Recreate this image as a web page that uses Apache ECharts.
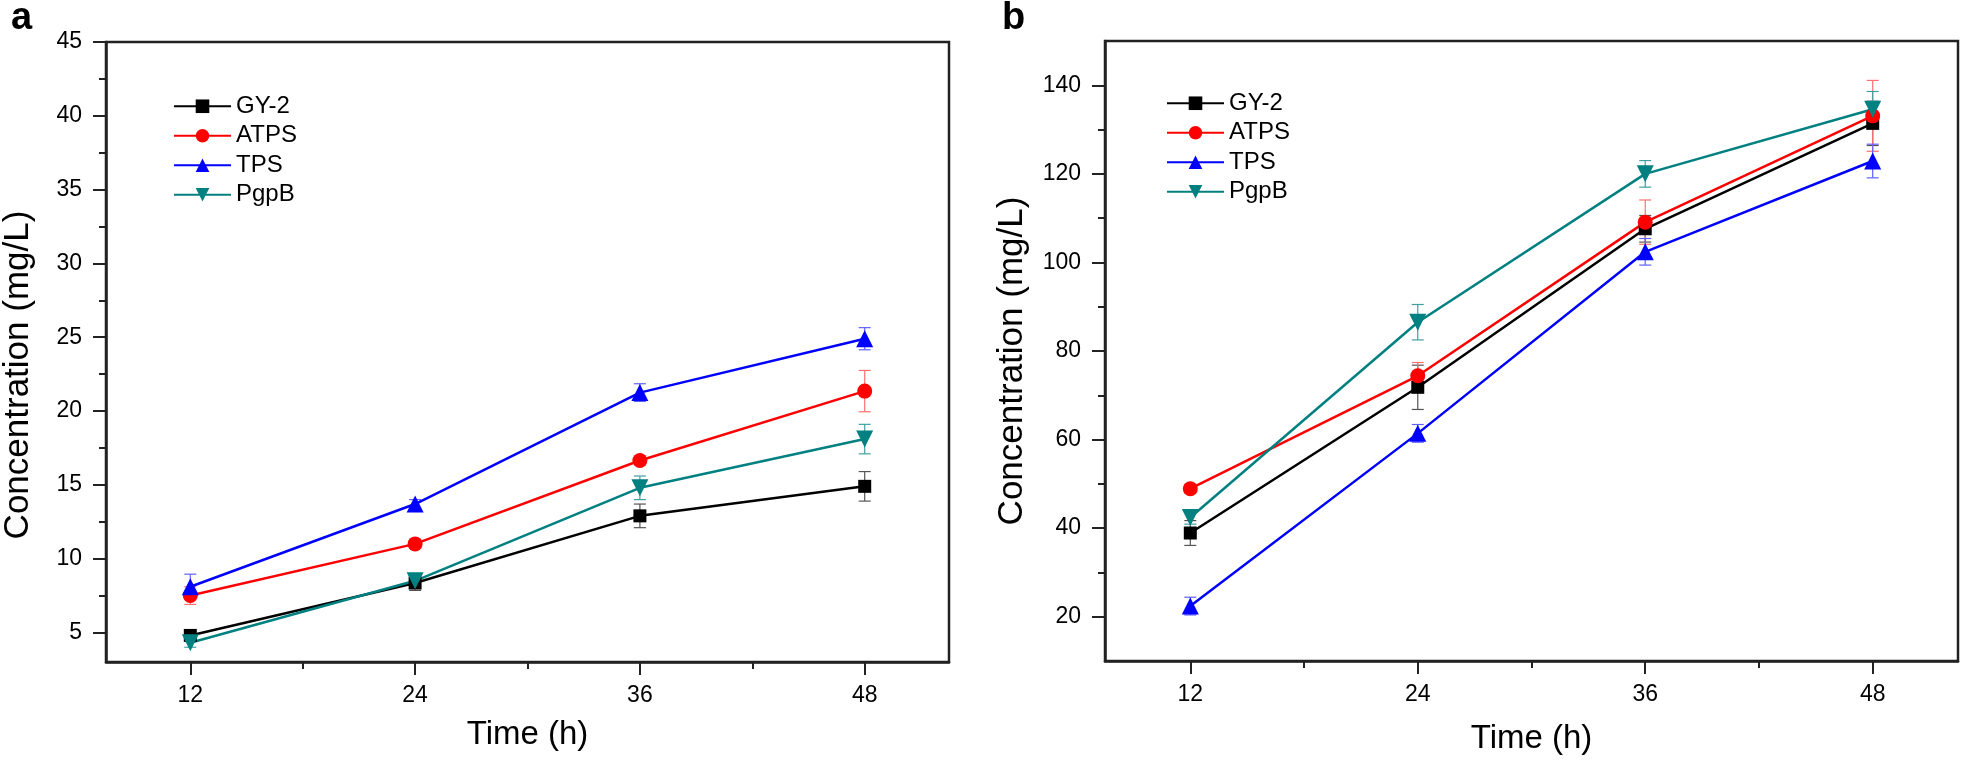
<!DOCTYPE html>
<html>
<head>
<meta charset="utf-8">
<script src="https://cdn.jsdelivr.net/npm/echarts@6/dist/echarts.min.js"></script>
<style>
html,body{margin:0;padding:0;background:#fff;}
#c{width:1961px;height:760px;}
</style>
</head>
<body>
<div id="c"></div>
<script>
// ---- data ----
const times = [12, 24, 36, 48];
const seriesNames = ['GY-2', 'ATPS', 'TPS', 'PgpB'];

// panel a
const gy2A = [4.8, 8.35, 12.9, 14.9];
const gy2AErr = [0.3, 0.5, 0.8, 1.0];
const atpsA = [7.5, 11.0, 16.65, 21.35];
const atpsAErr = [0.6, 0.3, 0.3, 1.4];
const tpsA = [8.1, 13.7, 21.25, 24.9];
const tpsAErr = [0.85, 0.3, 0.6, 0.75];
const pgpbA = [4.3, 8.5, 14.8, 18.1];
const pgpbAErr = [0.3, 0.4, 0.8, 1.0];

// panel b
const gy2B = [38.9, 71.8, 107.6, 131.4];
const gy2BErr = [2.8, 5, 3, 5];
const atpsB = [48.9, 74.4, 109.1, 133.1];
const atpsBErr = [1, 3, 5, 8];
const tpsB = [22.4, 61.4, 102.4, 122.9];
const tpsBErr = [2, 2, 3, 3.8];
const pgpbB = [42.4, 86.5, 120.0, 134.6];
const pgpbBErr = [1.5, 4, 3, 4];

// ticks
const xMajor = [12, 24, 36, 48];
const xMinor = [18, 30, 42];
const yMajorA = [5, 10, 15, 20, 25, 30, 35, 40, 45];
const yMinorA = [7.5, 12.5, 17.5, 22.5, 27.5, 32.5, 37.5, 42.5];
const yMajorB = [20, 40, 60, 80, 100, 120, 140];
const yMinorB = [30, 50, 70, 90, 110, 130];

// ---- styles ----
const FONT = 'Liberation Sans, Arial, sans-serif';
const colors = ['#000000', '#ff0000', '#0000ff', '#008080'];
const errColors = ['#555555', '#ff7070', '#6060ff', '#40a0a0'];
const symbols = ['rect', 'circle', 'triangle', 'triangle'];
const symbolSizes = [13, 15, 17, 17];
const rotations = [0, 0, 0, 180];

const chart = echarts.init(document.getElementById('c'), null, {renderer: 'canvas'});

function mkX(grid, ticks, len, main, nameGap) {
  return {
    type: 'value', gridIndex: grid, min: 7.5, max: 52.5, position: 'bottom',
    axisLine: {show: main, lineStyle: {color: '#222', width: 2.5}},
    axisTick: {show: true, customValues: ticks, length: len, inside: false, lineStyle: {color: '#222', width: 2}},
    axisLabel: main ? {show: true, customValues: ticks, fontSize: 23, fontFamily: FONT, color: '#000', margin: 22} : {show: false},
    splitLine: {show: false},
    name: main ? 'Time (h)' : '',
    nameLocation: 'middle', nameGap: nameGap,
    nameTextStyle: {fontSize: 33, fontFamily: FONT, color: '#000'}
  };
}
function mkY(grid, min, max, ticks, len, main, nameGap, pad) {
  return {
    type: 'value', gridIndex: grid, min: min, max: max, position: 'left',
    axisLine: {show: main, lineStyle: {color: '#222', width: 2.5}},
    axisTick: {show: true, customValues: ticks, length: len, inside: false, lineStyle: {color: '#222', width: 2}},
    axisLabel: main ? {show: true, customValues: ticks, fontSize: 23, fontFamily: FONT, color: '#000', margin: 24} : {show: false},
    splitLine: {show: false},
    name: main ? 'Concentration (mg/L)' : '',
    nameLocation: 'middle', nameGap: nameGap,
    nameTextStyle: {fontSize: 35, fontFamily: FONT, color: '#000', padding: pad}
  };
}

const panels = [
  {vals: [gy2A, atpsA, tpsA, pgpbA], errs: [gy2AErr, atpsAErr, tpsAErr, pgpbAErr], x: 0, y: 0},
  {vals: [gy2B, atpsB, tpsB, pgpbB], errs: [gy2BErr, atpsBErr, tpsBErr, pgpbBErr], x: 2, y: 2}
];

const series = [];
panels.forEach(function (p) {
  p.vals.forEach(function (v, i) {
    const col = errColors[i];
    series.push({
      name: seriesNames[i] + ' err', type: 'custom', xAxisIndex: p.x, yAxisIndex: p.y,
      data: times.map(function (t, k) { return [t, v[k] - p.errs[i][k], v[k] + p.errs[i][k]]; }),
      encode: {x: 0, y: [1, 2]},
      z: 3, silent: true,
      renderItem: function (params, api) {
        const x = api.value(0);
        const lo = api.coord([x, api.value(1)]);
        const hi = api.coord([x, api.value(2)]);
        const w = 6;
        const st = {stroke: col, lineWidth: 1.2};
        return {type: 'group', children: [
          {type: 'line', shape: {x1: lo[0], y1: lo[1], x2: hi[0], y2: hi[1]}, style: st},
          {type: 'line', shape: {x1: lo[0] - w, y1: lo[1], x2: lo[0] + w, y2: lo[1]}, style: st},
          {type: 'line', shape: {x1: hi[0] - w, y1: hi[1], x2: hi[0] + w, y2: hi[1]}, style: st}
        ]};
      }
    });
    series.push({
      name: seriesNames[i], type: 'line', xAxisIndex: p.x, yAxisIndex: p.y,
      data: times.map(function (t, k) { return [t, v[k]]; }),
      symbol: symbols[i], symbolSize: symbolSizes[i], symbolRotate: rotations[i],
      showAllSymbol: true,
      lineStyle: {color: colors[i], width: 2.5},
      itemStyle: {color: colors[i]},
      z: 4
    });
  });
});

const legendBase = {
  orient: 'vertical', data: seriesNames, itemWidth: 57, itemHeight: 17, itemGap: 5,
  textStyle: {fontSize: 24, fontFamily: FONT, color: '#000', lineHeight: 24.5},
  selectedMode: false
};

chart.setOption({
  animation: false,
  backgroundColor: '#fff',
  grid: [
    {left: 106, top: 42, width: 843, height: 620, show: true, borderColor: '#222', borderWidth: 2.5, backgroundColor: 'transparent'},
    {left: 1105, top: 41, width: 853, height: 626, show: true, borderColor: '#222', borderWidth: 2.5, backgroundColor: 'transparent'}
  ],
  xAxis: [
    mkX(0, xMajor, 13, true, 56),
    mkX(0, xMinor, 7, false, 0),
    mkX(1, xMajor, 13, true, 61),
    mkX(1, xMinor, 7, false, 0)
  ],
  yAxis: [
    mkY(0, 3, 45, yMajorA, 13, true, 70, [0, 46, 0, 0]),
    mkY(0, 3, 45, yMinorA, 7, false, 0, 0),
    mkY(1, 10, 150, yMajorB, 13, true, 75, [0, 20, 0, 0]),
    mkY(1, 10, 150, yMinorB, 7, false, 0, 0)
  ],
  legend: [
    Object.assign({}, legendBase, {left: 168, top: 89}),
    Object.assign({}, legendBase, {left: 1161, top: 86})
  ],
  graphic: [
    {type: 'text', left: 11, top: 0, style: {text: 'a', fontSize: 38, fontWeight: 'bold', fontFamily: FONT, fill: '#000'}},
    {type: 'text', left: 1002, top: 0, style: {text: 'b', fontSize: 38, fontWeight: 'bold', fontFamily: FONT, fill: '#000'}}
  ],
  series: series
});
</script>
</body>
</html>
